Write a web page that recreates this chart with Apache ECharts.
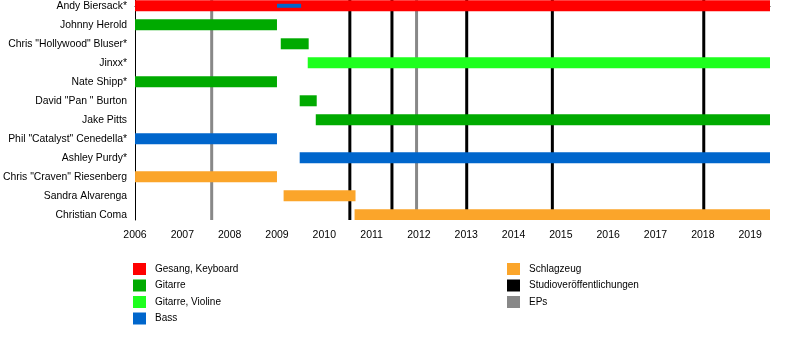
<!DOCTYPE html>
<html>
<head>
<meta charset="utf-8">
<script src="https://cdn.jsdelivr.net/npm/echarts@6/dist/echarts.min.js"></script>
<style>
  html, body { margin: 0; padding: 0; background: #fff; }
  #chart { width: 800px; height: 340px; }
</style>
</head>
<body>
<div id="chart"></div>
<script>
// Band members, top to bottom
const members = [
  'Andy Biersack*',
  'Johnny Herold',
  'Chris "Hollywood" Bluser*',
  'Jinxx*',
  'Nate Shipp*',
  'David "Pan " Burton',
  'Jake Pitts',
  'Phil "Catalyst" Cenedella*',
  'Ashley Purdy*',
  'Chris "Craven" Riesenberg',
  'Sandra Alvarenga',
  'Christian Coma'
];

const yearTicks = [2006, 2007, 2008, 2009, 2010, 2011, 2012, 2013, 2014, 2015, 2016, 2017, 2018, 2019];
const timelineEnd = 2019.42;

// Membership periods per role: [member, from, to]
const vocals = [
  ['Andy Biersack*', 2006, timelineEnd]
];
const guitar = [
  ['Johnny Herold', 2006, 2009.0],
  ['Chris "Hollywood" Bluser*', 2009.08, 2009.67],
  ['Nate Shipp*', 2006, 2009.0],
  ['David "Pan " Burton', 2009.48, 2009.84],
  ['Jake Pitts', 2009.82, timelineEnd]
];
const guitarViolin = [
  ['Jinxx*', 2009.65, timelineEnd]
];
const bass = [
  ['Phil "Catalyst" Cenedella*', 2006, 2009.0],
  ['Ashley Purdy*', 2009.48, timelineEnd]
];
// Secondary role, drawn as a thin bar inside the main one
const bassSecondary = [
  ['Andy Biersack*', 2009.0, 2009.51]
];
const drums = [
  ['Chris "Craven" Riesenberg', 2006, 2009.0],
  ['Sandra Alvarenga', 2009.14, 2010.66],
  ['Christian Coma', 2010.64, timelineEnd]
];

// Release dates
const studioAlbums = [2010.54, 2011.43, 2013.01, 2014.82, 2018.02];
const eps = [2007.62, 2011.95];

const FONT = '"Liberation Sans", Arial, Helvetica, sans-serif';

function toRows(list) {
  return list.map(([name, from, to]) => [from, to, members.indexOf(name)]);
}

function barRenderer(thickness) {
  return function (params, api) {
    const row = api.value(2);
    const a = api.coord([api.value(0), row]);
    const b = api.coord([api.value(1), row]);
    const cs = params.coordSys;
    const shape = echarts.graphic.clipRectByRect(
      { x: a[0], y: a[1] - thickness / 2, width: b[0] - a[0], height: thickness },
      { x: cs.x, y: cs.y, width: cs.width, height: cs.height }
    );
    return shape && { type: 'rect', shape: shape, style: api.style() };
  };
}

function releaseRenderer(params, api) {
  const x = api.coord([api.value(0), 0])[0];
  const cs = params.coordSys;
  return {
    type: 'line',
    shape: { x1: x, y1: cs.y, x2: x, y2: cs.y + cs.height },
    style: { stroke: api.visual('color'), lineWidth: 3 }
  };
}

function roleSeries(name, color, list, thickness) {
  return {
    name: name,
    type: 'custom',
    renderItem: barRenderer(thickness),
    itemStyle: { color: color },
    encode: { x: [0, 1], y: 2 },
    data: toRows(list),
    z: 3,
    silent: true
  };
}

function releaseSeries(name, color, dates) {
  return {
    name: name,
    type: 'custom',
    renderItem: releaseRenderer,
    itemStyle: { color: color },
    encode: { x: 0, y: 1 },
    data: dates.map(d => [d, 0]),
    z: 1,
    silent: true
  };
}

const legendBase = {
  orient: 'vertical',
  top: 263,
  padding: 0,
  icon: 'rect',
  itemWidth: 13,
  itemHeight: 12,
  itemGap: 4.5,
  selectedMode: false,
  textStyle: { color: '#000', fontSize: 10, fontFamily: FONT, padding: [0, 0, 0, 4] }
};

const chart = echarts.init(document.getElementById('chart'), null, { renderer: 'canvas' });

chart.setOption({
  animation: false,
  backgroundColor: '#fff',
  textStyle: { fontFamily: FONT },
  grid: { left: 135, right: 30, top: 0, bottom: 120, containLabel: false },
  xAxis: {
    type: 'value',
    min: 2006,
    max: timelineEnd,
    axisLine: { show: true, lineStyle: { color: '#000', width: 1 } },
    axisTick: { show: true, length: 5, customValues: yearTicks, lineStyle: { color: '#000' } },
    axisLabel: {
      customValues: yearTicks,
      formatter: v => String(v),
      color: '#000',
      fontSize: 10.5,
      fontFamily: FONT,
      margin: 10
    },
    splitLine: { show: false }
  },
  yAxis: {
    type: 'value',
    inverse: true,
    min: -0.305,
    max: 11.275,
    axisLine: { show: true, lineStyle: { color: '#000', width: 1 } },
    axisTick: { show: false },
    axisLabel: {
      customValues: members.map((m, i) => i),
      formatter: v => members[Math.round(v)] || '',
      color: '#000',
      fontSize: 10.4,
      fontFamily: FONT,
      margin: 8
    },
    splitLine: { show: false }
  },
  legend: [
    Object.assign({}, legendBase, {
      left: 133,
      data: ['Gesang, Keyboard', 'Gitarre', 'Gitarre, Violine', 'Bass']
    }),
    Object.assign({}, legendBase, {
      left: 507,
      data: ['Schlagzeug', 'Studioveröffentlichungen', 'EPs']
    })
  ],
  series: [
    releaseSeries('Studioveröffentlichungen', '#000000', studioAlbums),
    releaseSeries('EPs', '#888888', eps),
    roleSeries('Gesang, Keyboard', '#ff0000', vocals, 11),
    roleSeries('Gitarre', '#00aa00', guitar, 11),
    roleSeries('Gitarre, Violine', '#1eff1e', guitarViolin, 11),
    roleSeries('Bass', '#0066cc', bass, 11),
    Object.assign(roleSeries('Bass', '#0066cc', bassSecondary, 4), { z: 4 }),
    roleSeries('Schlagzeug', '#fba52a', drums, 11)
  ]
});
</script>
</body>
</html>
